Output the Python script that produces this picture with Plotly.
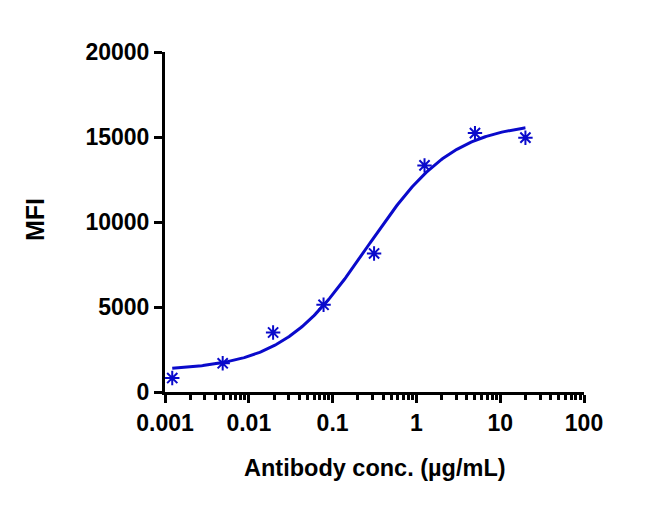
import numpy as np
import plotly.graph_objects as go

# Data
conc = [0.00122, 0.00488, 0.0195, 0.078, 0.3125, 1.25, 5.0, 20.0]
mfi = [820, 1690, 3500, 5130, 8150, 13330, 15230, 14960]

# 4PL fit parameters (estimated from the drawn curve)
fit_bottom = 1250
fit_top = 15900
fit_log_ec50 = -0.58
fit_hill = 0.85

x_ticks = [0.001, 0.01, 0.1, 1, 10, 100]
x_ticktext = ["0.001", "0.01", "0.1", "1", "10", "100"]
y_ticks = [0, 5000, 10000, 15000, 20000]
y_ticktext = ["0", "5000", "10000", "15000", "20000"]

log_x = np.linspace(np.log10(conc[0]), np.log10(conc[-1]), 300)
fit_x = 10 ** log_x
fit_y = fit_bottom + (fit_top - fit_bottom) / (1 + 10 ** ((fit_log_ec50 - log_x) * fit_hill))

color = "#0A0ACB"
font = "Liberation Sans, Arial, sans-serif"
tickfont = dict(family=font, size=23, color="black", weight="bold")
titlefont = dict(family=font, size=23.5, color="black", weight="bold")
ytitlefont = dict(family=font, size=25, color="black", weight="bold")

fig = go.Figure()
fig.add_trace(go.Scatter(x=fit_x, y=fit_y, mode="lines",
                         line=dict(color=color, width=3), showlegend=False))
fig.add_trace(go.Scatter(x=conc, y=mfi, mode="markers",
                         marker=dict(symbol="asterisk-open", size=12, color=color,
                                     line=dict(color=color, width=2)),
                         showlegend=False))

fig.update_layout(
    width=658, height=510,
    margin=dict(l=157, r=82, t=44, b=126, autoexpand=False),
    paper_bgcolor="white", plot_bgcolor="white",
    font=dict(family=font, size=21, color="black"),
    xaxis=dict(
        type="log", range=[-3, 2], automargin=False,
        tickvals=x_ticks, ticktext=x_ticktext,
        ticks="outside", ticklen=8, tickwidth=3, tickcolor="black",
        showline=True, linewidth=3, linecolor="black",
        showgrid=False, zeroline=False,
        tickfont=tickfont,
        minor=dict(ticks="outside", ticklen=5, tickwidth=3, tickcolor="black",
                   dtick="D1", showgrid=False),
    ),
    yaxis=dict(
        range=[0, 20000], automargin=False,
        tickvals=y_ticks, ticktext=y_ticktext,
        ticks="outside", ticklen=8, tickwidth=3, tickcolor="black",
        showline=True, linewidth=3, linecolor="black",
        showgrid=False, zeroline=False,
        tickfont=tickfont,
    ),
    annotations=[
        dict(text="Antibody conc. (µg/mL)", xref="paper", yref="paper",
             x=(375 - 165) / 419, y=-(468 - 392) / 340, xanchor="center", yanchor="middle",
             showarrow=False, font=titlefont),
        dict(text="MFI", xref="paper", yref="paper",
             x=-(165 - 35) / 419, y=(392 - 220) / 340, xanchor="center", yanchor="middle",
             textangle=-90, showarrow=False, font=ytitlefont),
    ],
)

fig.write_html("out.html")
